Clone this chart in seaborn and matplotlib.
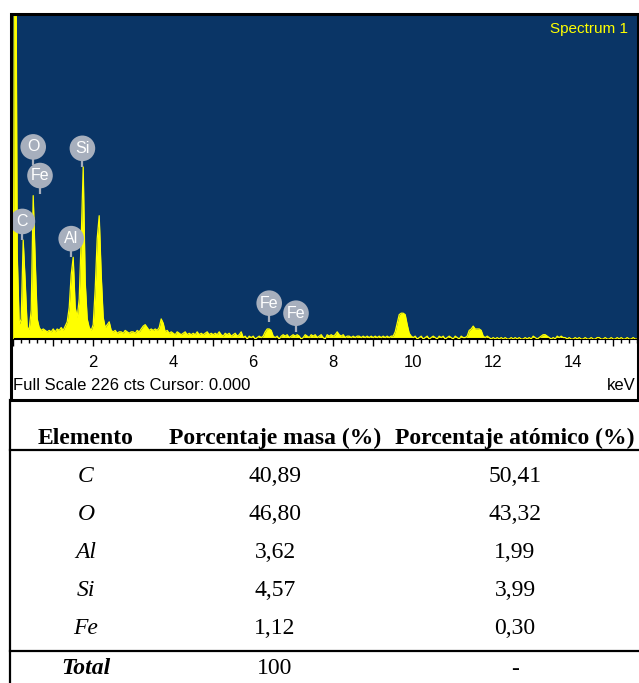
import numpy as np
import pandas as pd
import matplotlib
matplotlib.use("Agg")
import matplotlib.pyplot as plt
from matplotlib.patches import Rectangle
from matplotlib.lines import Line2D
import seaborn as sns

# ---------------------------------------------------------------- data
# EDS spectrum: counts per channel, channels 0.05 keV wide starting at 0 keV
channel_start_kev = 0.0
channel_width_kev = 0.05
counts = [
    # 0.00 - 0.95 keV
    0, 400, 60, 10, 14, 69, 40, 8, 7, 20, 100, 55, 14, 8, 6, 7, 6, 5, 6, 5,
    # 1.00 - 1.95 keV
    7, 5, 7, 6, 8, 6, 9, 12, 22, 45, 57, 22, 15, 28, 70, 120, 40, 14, 8, 6,
    # 2.00 - 2.95 keV
    10, 35, 70, 86, 45, 15, 8, 10, 12, 6, 5, 6, 4, 5, 5, 4, 6, 5, 4, 5,
    # 3.00 - 3.95 keV
    5, 4, 6, 5, 7, 9, 10, 8, 6, 7, 6, 7, 6, 8, 14, 11, 5, 6, 4, 5,
    # 4.00 - 4.95 keV
    4, 3, 5, 4, 3, 4, 5, 3, 4, 3, 4, 3, 5, 3, 4, 3, 4, 5, 3, 4,
    # 5.00 - 5.95 keV
    3, 4, 3, 5, 3, 2, 4, 3, 4, 2, 3, 4, 2, 3, 5, 1, 2, 0, 2, 1,
    # 6.00 - 6.95 keV
    2, 0, 1, 2, 1, 2, 5, 7, 7, 6, 2, 1, 2, 0, 2, 3, 2, 3, 1, 2,
    # 7.00 - 7.95 keV
    3, 2, 3, 2, 0, 1, 3, 2, 1, 3, 2, 3, 1, 2, 3, 1, 0, 3, 2, 3,
    # 8.00 - 8.95 keV
    2, 3, 5, 3, 2, 3, 1, 2, 2, 1, 2, 1, 2, 2, 1, 2, 1, 2, 1, 2,
    # 9.00 - 9.95 keV
    1, 2, 1, 2, 1, 2, 1, 2, 1, 2, 2, 5, 11, 17, 18, 18, 17, 10, 4, 2,
    # 10.00 - 10.95 keV
    1, 2, 0, 1, 2, 0, 1, 2, 0, 1, 2, 1, 0, 2, 1, 2, 0, 1, 2, 1,
    # 11.00 - 11.95 keV
    0, 2, 1, 0, 2, 1, 1, 2, 6, 7, 9, 7, 7, 7, 6, 2, 1, 2, 1, 0,
    # 12.00 - 12.95 keV
    1, 0, 1, 0, 1, 0, 1, 0, 0, 1, 0, 1, 0, 1, 0, 0, 1, 0, 1, 0,
    # 13.00 - 13.95 keV
    2, 1, 0, 1, 2, 3, 3, 2, 1, 0, 1, 0, 2, 1, 2, 1, 1, 0, 1, 0,
    # 14.00 - 14.95 keV
    0, 1, 0, 1, 0, 0, 1, 0, 0, 1, 0, 0, 1, 1, 0, 0, 1, 0, 0, 1,
    # 15.00 - 15.70 keV
    0, 0, 1, 0, 1, 0, 0, 1, 0, 0, 1, 0, 0, 1, 0,
]
full_scale_cts = 226

# identified lines
line_labels = ["C", "O", "Fe", "Al", "Si", "Fe", "Fe"]
line_kev = [0.23, 0.50, 0.67, 1.45, 1.73, 6.40, 7.07]

# composition table
table_header = ["Elemento", "Porcentaje masa (%)", "Porcentaje atómico (%)"]
elementos = ["C", "O", "Al", "Si", "Fe"]
masa = ["40,89", "46,80", "3,62", "4,57", "1,12"]
atomico = ["50,41", "43,32", "1,99", "3,99", "0,30"]
total_row = ["Total", "100", "-"]

# ---------------------------------------------------------------- layout
W, H = 639, 683
DPI = 100
BLUE = "#0A3566"
YELLOW = "#FFFF00"
MARK = "#A7AFBD"
SANS = "Liberation Sans"
SERIF = "Liberation Serif"

# vertical placement of the line markers (counts)
label_cts = [82, 134, 114, 70, 133, 25, 18]


def fx(px):
    return px / W


def fy(py):
    return 1 - py / H


energy = channel_start_kev + channel_width_kev * np.arange(len(counts))
spec = pd.DataFrame({"keV": energy, "cts": counts})

fig = plt.figure(figsize=(W / DPI, H / DPI), dpi=DPI)
fig.patch.set_facecolor("white")

ax_l, ax_r, ax_t, ax_b = 13, 638, 15, 339
ax = fig.add_axes([fx(ax_l), fy(ax_b), (ax_r - ax_l) / W, (ax_b - ax_t) / H])
ax.set_facecolor(BLUE)

ax.fill_between(spec["keV"], spec["cts"], 0, color=YELLOW, linewidth=0, zorder=2)
sns.lineplot(data=spec, x="keV", y="cts", ax=ax, color=YELLOW, linewidth=0.9,
             zorder=3)

ax.set_xlim(-0.005, 15.62)
ax.set_ylim(0, full_scale_cts)
ax.set_xlabel("")
ax.set_ylabel("")
ax.set_yticks([])

major = np.arange(0, 16, 1)
ax.set_xticks(major)
ax.set_xticklabels([str(v) if (v % 2 == 0 and v > 0) else "" for v in major],
                   fontfamily=SANS, fontsize=12)
ax.set_xticks(np.arange(0, 15.7, 0.2), minor=True)
ax.tick_params(axis="x", which="major", direction="out", length=5, width=1,
               color="black", pad=6.5)
ax.tick_params(axis="x", which="minor", direction="out", length=3, width=1,
               color="black")
for side in ("top", "left", "right"):
    ax.spines[side].set_visible(False)
ax.spines["bottom"].set_color("black")
ax.spines["bottom"].set_linewidth(1.5)

# line markers: grey disc with a short stem and the element symbol
px_per_ct = (ax_b - ax_t) / full_scale_cts
r_ct = 12.5 / px_per_ct
stem_ct = 6 / px_per_ct
for lbl, e, yc in zip(line_labels, line_kev, label_cts):
    ax.plot([e, e], [yc - r_ct + 1, yc - r_ct - stem_ct], color=MARK,
            linewidth=1.6, solid_capstyle="butt", zorder=4)
    ax.scatter([e], [yc], s=340, color=MARK, edgecolors="none", zorder=5)
    ax.text(e, yc, lbl, ha="center", va="center", color="white",
            fontfamily=SANS, fontsize=11.5, zorder=6)

fig.text(fx(628), fy(29), "Spectrum 1", ha="right", va="center", color=YELLOW,
         fontfamily=SANS, fontsize=11)

fig.text(fx(13), fy(385), "Full Scale %d cts Cursor: 0.000" % full_scale_cts,
         ha="left", va="center", fontfamily=SANS, fontsize=12, color="black")
fig.text(fx(636), fy(385), "keV", ha="right", va="center", fontfamily=SANS,
         fontsize=12, color="black")

# panel frame
fig.patches.append(Rectangle((fx(11), fy(400)), (637.5 - 11) / W, (400 - 14) / H,
                             transform=fig.transFigure, fill=False,
                             edgecolor="black", linewidth=2.2))

# ---------------------------------------------------------------- table
fig.add_artist(Line2D([fx(10), fx(10)], [fy(400), fy(683)], color="black",
                      linewidth=1.6, transform=fig.transFigure))
for yl in (450, 651):
    fig.add_artist(Line2D([fx(10), fx(639)], [fy(yl), fy(yl)], color="black",
                          linewidth=1.6, transform=fig.transFigure))

col_x = [86, 275, 515]
fs = 17
for cx, txt in zip(col_x, table_header):
    fig.text(fx(cx), fy(438), txt, ha="center", va="center", fontfamily=SERIF,
             fontweight="bold", fontsize=fs)

row_y = [476, 514, 552, 591, 629]
for yy, el, m, a in zip(row_y, elementos, masa, atomico):
    fig.text(fx(col_x[0]), fy(yy), el, ha="center", va="center",
             fontfamily=SERIF, fontstyle="italic", fontsize=fs)
    fig.text(fx(col_x[1]), fy(yy), m, ha="center", va="center",
             fontfamily=SERIF, fontsize=fs)
    fig.text(fx(col_x[2]), fy(yy), a, ha="center", va="center",
             fontfamily=SERIF, fontsize=fs)

fig.text(fx(col_x[0]), fy(669), total_row[0], ha="center", va="center",
         fontfamily=SERIF, fontstyle="italic", fontweight="bold", fontsize=fs)
fig.text(fx(col_x[1]), fy(669), total_row[1], ha="center", va="center",
         fontfamily=SERIF, fontsize=fs)
fig.text(fx(col_x[2]), fy(669), total_row[2], ha="center", va="center",
         fontfamily=SERIF, fontsize=fs)

fig.savefig("out.png", dpi=DPI, facecolor="white")
